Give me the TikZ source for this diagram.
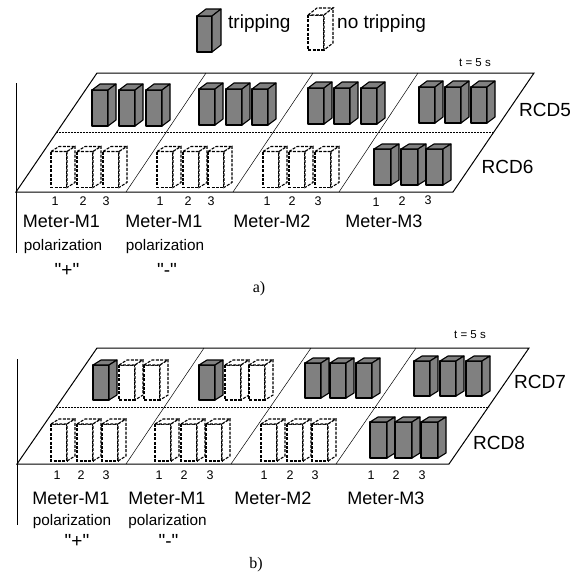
\documentclass[tikz,border=0pt]{standalone}
\usepackage{fontspec}
\setmainfont{Liberation Sans}
\newfontfamily\capfont{Liberation Serif}
\newfontfamily\qfont{Liberation Sans}[Ligatures=TeXOff]
\definecolor{cubegray}{RGB}{128,128,128}
\newcommand{\cubeF}[6]{%
  \draw[cubeline,fill=cubegray] (#1,#2) rectangle (#1+#3,#2+#4);
  \draw[cubeline,fill=cubegray] (#1,#2) -- (#1+#5,#2-#6) -- (#1+#3+#5,#2-#6) -- (#1+#3,#2) -- cycle;
  \draw[cubeline,fill=cubegray] (#1+#3,#2) -- (#1+#3+#5,#2-#6) -- (#1+#3+#5,#2+#4-#6) -- (#1+#3,#2+#4) -- cycle;
}
\newcommand{\cubeD}[6]{%
  \draw[cubedash,fill=white] (#1,#2) rectangle (#1+#3,#2+#4);
  \draw[cubedash,fill=white] (#1,#2) -- (#1+#5,#2-#6) -- (#1+#3+#5,#2-#6) -- (#1+#3,#2) -- cycle;
  \draw[cubedash,fill=white] (#1+#3,#2) -- (#1+#3+#5,#2-#6) -- (#1+#3+#5,#2+#4-#6) -- (#1+#3,#2+#4) -- cycle;
}
\begin{document}
\begin{tikzpicture}[x=1pt,y=-1pt,
  cubeline/.style={draw=black,line width=1.1pt,line join=round},
  cubedash/.style={draw=black,line width=1.1pt,dash pattern=on 3pt off 1.4pt},
  frame/.style={draw=black,line width=1pt,line join=miter},
  divline/.style={draw=black,line width=0.5pt},
  dotline/.style={draw=black,line width=0.6pt,dash pattern=on 0.6pt off 0.9pt},
  axisline/.style={draw=black,line width=1pt},
  rcd/.style={font=\fontsize{19}{22}\selectfont,inner sep=0pt},
  meter/.style={font=\fontsize{18}{21}\selectfont,inner sep=0pt},
  pol/.style={font=\fontsize{15.3}{18}\selectfont,inner sep=0pt},
  sgn/.style={font=\qfont\fontsize{19}{21}\selectfont,inner sep=0pt},
  num/.style={font=\fontsize{12.5}{14}\selectfont,inner sep=0pt},
  tlab/.style={font=\fontsize{11.5}{13}\selectfont,inner sep=0pt},
  leg/.style={font=\fontsize{19}{22}\selectfont,inner sep=0pt,anchor=base west},
  capt/.style={font=\capfont\fontsize{16}{19}\selectfont,inner sep=0pt}]
\useasboundingbox (0,0) rectangle (579,574);

% ---------- legend ----------
\cubeF{197}{16}{15}{36}{9}{7}
\node[leg] (legT) at (228,28) {tripping};
\cubeD{308}{15}{16}{35}{9}{7}
\node[leg] (legN) at (337,28) {no tripping};

% ---------- panel a ----------
\node[tlab] (ta) at (475,63) {t = 5 s};
\draw[frame] (97,73) -- (534,73) -- (453,192) -- (16,192) -- cycle;
\draw[divline] (206,73) -- (126,192);
\draw[divline] (313,73) -- (233,192);
\draw[divline] (418,73) -- (339,192);
\draw[dotline] (57,132) -- (494,132);
\draw[axisline] (16,83) -- (16,253);

\foreach \x/\y in {92/90,119/90,146/90,199/89,226/89,252/89,308/88,334/88,361/88,419/87,445/87,471/87}
  {\cubeF{\x}{\y}{16}{36}{8}{6}}
\foreach \x in {51,77,103,157,183,208,263,289,315}
  {\cubeD{\x}{151.5}{16}{36}{8}{5}}
\foreach \x in {374,401,426}
  {\cubeF{\x}{149}{17}{36}{8}{5}}

\node[rcd] (rcd5) at (545,110) {RCD5};
\node[rcd] (rcd6) at (507.5,167) {RCD6};

\foreach \x [count=\i] in {55,83,106}{\node[num] (na1\i) at (\x,201) {\i};}
\foreach \x [count=\i] in {160,188,211}{\node[num] (na2\i) at (\x,201) {\i};}
\foreach \x [count=\i] in {267,292,318}{\node[num] (na3\i) at (\x,201) {\i};}
\node[num] (na41) at (376,202) {1};
\node[num] (na42) at (402,201) {2};
\node[num] (na43) at (428,200) {3};

\node[meter] (ma1) at (61.5,221) {Meter-M1};
\node[meter] (ma2) at (164,221) {Meter-M1};
\node[meter] (ma3) at (272,221) {Meter-M2};
\node[meter] (ma4) at (384,221) {Meter-M3};
\node[pol] (pa1) at (63,247) {polarization};
\node[pol] (pa2) at (165,247) {polarization};
\node[sgn] (sa1) at (67,270) {"+"};
\node[sgn] (sa2) at (167,270) {"-"};
\node[capt] (capa) at (259,289) {a)};

% ---------- panel b ----------
\node[tlab] (tb) at (470,335) {t = 5 s};
\draw[frame] (97,348) -- (529,348) -- (449,464) -- (17,464) -- cycle;
\draw[divline] (204,348) -- (126,464);
\draw[divline] (311,348) -- (231,464);
\draw[divline] (416,348) -- (336,464);
\draw[dotline] (57,407) -- (489,407);
\draw[axisline] (17,359) -- (17,525);

\foreach \x/\y in {93/365,199/365,305/363,330/363,356/363,414/361,440/361,466/361}
  {\cubeF{\x}{\y}{16}{35}{8}{5}}
\foreach \x in {119,144,225,249}
  {\cubeD{\x}{365}{16}{35}{8}{5}}
\foreach \x in {51,77,102,155,181,206,261,287,312}
  {\cubeD{\x}{424}{16}{37}{8}{5}}
\foreach \x in {370,395,421}
  {\cubeF{\x}{422}{17}{36}{8}{5}}

\node[rcd] (rcd7) at (540,382) {RCD7};
\node[rcd] (rcd8) at (499,443) {RCD8};

\foreach \x [count=\i] in {57,81,106}{\node[num] (nb1\i) at (\x,475) {\i};}
\foreach \x [count=\i] in {159,184,210}{\node[num] (nb2\i) at (\x,475) {\i};}
\foreach \x [count=\i] in {264,290,315}{\node[num] (nb3\i) at (\x,475) {\i};}
\foreach \x [count=\i] in {371,396,422}{\node[num] (nb4\i) at (\x,475) {\i};}

\node[meter] (mb1) at (71,498) {Meter-M1};
\node[meter] (mb2) at (167,498) {Meter-M1};
\node[meter] (mb3) at (273,498) {Meter-M2};
\node[meter] (mb4) at (386,498) {Meter-M3};
\node[pol] (pb1) at (72,522) {polarization};
\node[pol] (pb2) at (167.5,522) {polarization};
\node[sgn] (sb1) at (77,541) {"+"};
\node[sgn] (sb2) at (168.5,541) {"-"};
\node[capt] (capb) at (256,565) {b)};
\end{tikzpicture}
\end{document}
